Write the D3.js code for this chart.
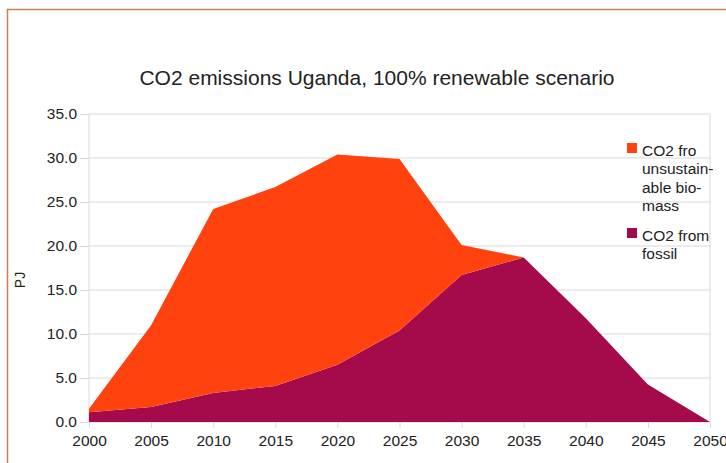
<!DOCTYPE html>
<html>
<head>
<meta charset="utf-8">
<script src="https://cdn.jsdelivr.net/npm/d3@7"></script>
<style>
  body { margin: 0; background: #fff; }
  svg text { font-family: "Liberation Sans", Arial, sans-serif; fill: #222; }
</style>
</head>
<body>
<svg id="chart" width="726" height="463"></svg>
<script>
// data
let years = [2000, 2005, 2010, 2015, 2020, 2025, 2030, 2035, 2040, 2045, 2050];
let fossil = [1.1, 1.7, 3.3, 4.1, 6.5, 10.4, 16.7, 18.7, 11.8, 4.25, 0];
let biomass = [0.4, 9.3, 20.9, 22.6, 23.9, 19.5, 3.4, 0, 0, 0, 0];
let yTicks = [0, 5, 10, 15, 20, 25, 30, 35];
let legendLines = [["CO2 fro", "unsustain-", "able bio-", "mass"], ["CO2 from", "fossil"]];
let colors = { fossil: "#a50a4a", biomass: "#ff420e" };

let svg = d3.select('#chart');
let margin = { left: 89, right: 16, top: 114, bottom: 41 };
let plotW = 710 - margin.left;
let plotH = 422 - margin.top;

// outer frame
svg.append('path')
    .attr('d', 'M7.5,463 L7.5,9.5 L726,9.5')
    .attr('fill', 'none')
    .attr('stroke', '#c8814f')
    .attr('stroke-width', 1.5);

svg.append('text')
    .attr('x', 377)
    .attr('y', 85)
    .attr('text-anchor', 'middle')
    .style('font-size', '21px')
    .text('CO2 emissions Uganda, 100% renewable scenario');

let xScale = d3.scaleLinear().domain([2000, 2050]).range([0, plotW]);
let yScale = d3.scaleLinear().domain([0, 35]).range([plotH, 0]);

let chart = svg.append('g').attr('transform', `translate(${margin.left},${margin.top})`);

// grid
chart.append('g')
    .selectAll('line')
    .data(yTicks)
    .enter()
    .append('line')
    .attr('x1', 0).attr('x2', plotW)
    .attr('y1', d => yScale(d)).attr('y2', d => yScale(d))
    .attr('stroke', '#d9d9d9');
chart.append('line')
    .attr('x1', 0).attr('x2', 0).attr('y1', 0).attr('y2', plotH)
    .attr('stroke', '#d9d9d9');
chart.append('line')
    .attr('x1', plotW).attr('x2', plotW).attr('y1', 0).attr('y2', plotH)
    .attr('stroke', '#d9d9d9');

// stacked areas
let rows = years.map((y, i) => ({ year: y, fossil: fossil[i], biomass: biomass[i] }));
let stacked = d3.stack().keys(['fossil', 'biomass'])(rows);
let area = d3.area()
    .x(d => xScale(d.data.year))
    .y0(d => yScale(d[0]))
    .y1(d => yScale(d[1]));

chart.selectAll('.layer')
    .data(stacked)
    .enter()
    .append('path')
    .attr('class', 'layer')
    .attr('d', area)
    .attr('fill', d => colors[d.key]);

// axes
let xAxis = d3.axisBottom(xScale)
    .tickValues(years)
    .tickFormat(d => d)
    .tickSize(6)
    .tickPadding(7);
let yAxis = d3.axisLeft(yScale)
    .tickValues(yTicks)
    .tickFormat(d3.format('.1f'))
    .tickSize(9)
    .tickPadding(3);

let xG = chart.append('g').attr('transform', `translate(0,${plotH})`).call(xAxis);
let yG = chart.append('g').call(yAxis);
[xG, yG].forEach(g => {
    g.select('.domain').remove();
    g.selectAll('line').attr('stroke', '#d9d9d9');
    g.selectAll('text').style('font-size', '15.5px').attr('fill', '#222');
});

svg.append('text')
    .attr('transform', 'translate(25,280) rotate(-90)')
    .attr('text-anchor', 'middle')
    .style('font-size', '14px')
    .text('PJ');

// legend
let legend = svg.append('g');
let legendItems = [
    { color: colors.biomass, lines: legendLines[0], y: 143 },
    { color: colors.fossil, lines: legendLines[1], y: 228 }
];
legendItems.forEach(item => {
    legend.append('rect')
        .attr('x', 627).attr('y', item.y)
        .attr('width', 10).attr('height', 10)
        .attr('fill', item.color);
    let t = legend.append('text')
        .attr('x', 642)
        .attr('y', item.y + 13)
        .style('font-size', '15.5px');
    item.lines.forEach((l, i) => {
        t.append('tspan')
            .attr('x', 642)
            .attr('dy', i === 0 ? 0 : 18.3)
            .text(l);
    });
});
</script>
</body>
</html>
